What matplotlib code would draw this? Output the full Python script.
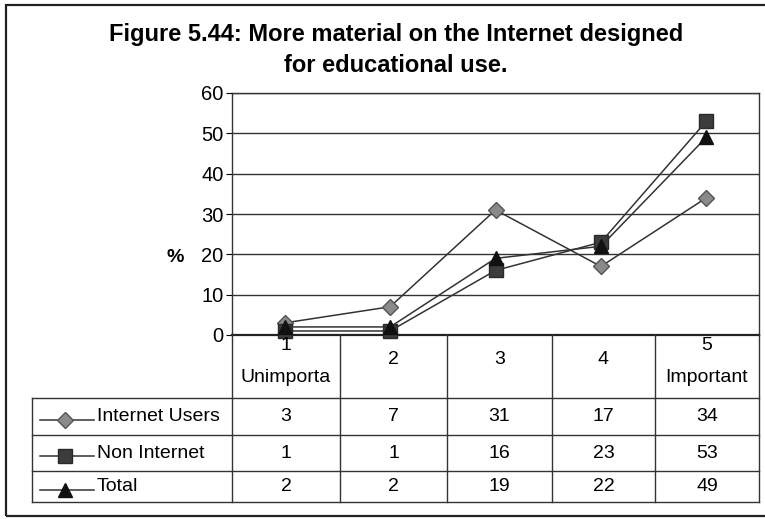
import matplotlib
matplotlib.use("Agg")
import matplotlib.pyplot as plt
from matplotlib.lines import Line2D
from matplotlib.patches import Rectangle

# data
categories = ["1\nUnimporta", "2", "3", "4", "5\nImportant"]
internet_users = [3, 7, 31, 17, 34]
non_internet = [1, 1, 16, 23, 53]
total = [2, 2, 19, 22, 49]
series_names = ["Internet Users", "Non Internet", "Total"]
y_ticks = [0, 10, 20, 30, 40, 50, 60]

W, H = 765, 519
plt.rcParams['font.family'] = ['Liberation Sans', 'DejaVu Sans']
FS = 14

fig = plt.figure(figsize=(W / 100, H / 100), dpi=100)
fig.patch.set_facecolor("white")

def fx(x):
    return x / W

def fy(y):
    return 1 - y / H

# outer frame (runs off the right edge)
fig.add_artist(Rectangle((fx(6), fy(516)), fx(800) - fx(6), fy(5) - fy(516),
                         transform=fig.transFigure, fill=False, edgecolor="#222222", lw=1.6))

# plot area
x_left, x_right, y_top, y_bottom = 232, 759, 93, 335
ax = fig.add_axes([fx(x_left), fy(y_bottom), fx(x_right) - fx(x_left), fy(y_top) - fy(y_bottom)])
ax.set_xlim(0, len(categories))
ax.set_ylim(0, 60)
ax.set_yticks(y_ticks)
ax.set_yticklabels([str(v) for v in y_ticks], fontsize=FS + 0.5)
ax.tick_params(axis="y", length=4, width=0.8, pad=2)
ax.set_xticks([])
for v in y_ticks[1:]:
    ax.axhline(v, color="#333333", lw=1.0, zorder=1)
for s in ["top", "right", "left"]:
    ax.spines[s].set_color("#333333")
    ax.spines[s].set_linewidth(1.0)
ax.spines["bottom"].set_color("#222222")
ax.spines["bottom"].set_linewidth(1.6)

xs = [i + 0.5 for i in range(len(categories))]
styles = [
    dict(marker="D", markersize=8, markerfacecolor="#8a8a8a", markeredgecolor="#555555"),
    dict(marker="s", markersize=9.5, markerfacecolor="#3c3c3c", markeredgecolor="#2a2a2a"),
    dict(marker="^", markersize=9.5, markerfacecolor="#111111", markeredgecolor="#111111"),
]
all_series = [internet_users, non_internet, total]
for vals, st in zip(all_series, styles):
    ax.plot(xs, vals, color="#333333", lw=1.1, zorder=3, clip_on=False, **st)

fig.text(fx(175), fy(257), "%", fontsize=FS, fontweight="bold", ha="center", va="center")

# title
fig.text(fx(396), fy(34), "Figure 5.44: More material on the Internet designed",
         fontsize=17, fontweight="bold", ha="center", va="center")
fig.text(fx(396), fy(66), "for educational use.",
         fontsize=17, fontweight="bold", ha="center", va="center")

# data table
col_edges = [232, 340, 447, 552, 655, 759]
row_edges = [398, 435, 471, 502]
tbl_left = 32
lc = "#333333"

def hline(x0, x1, y, lw=1.0):
    fig.add_artist(Line2D([fx(x0), fx(x1)], [fy(y), fy(y)], transform=fig.transFigure, color=lc, lw=lw))

def vline(x, y0, y1, lw=1.0):
    fig.add_artist(Line2D([fx(x), fx(x)], [fy(y0), fy(y1)], transform=fig.transFigure, color=lc, lw=lw))

for x in col_edges:
    vline(x, y_bottom, row_edges[-1])
vline(tbl_left, row_edges[0], row_edges[-1])
for y in row_edges:
    hline(tbl_left, x_right, y)

for i, lab in enumerate(categories):
    cx = (col_edges[i] + col_edges[i + 1]) / 2
    parts = lab.split("\n")
    if len(parts) == 2:
        fig.text(fx(cx), fy(346), parts[0], fontsize=FS, ha="center", va="center")
        fig.text(fx(cx), fy(378), parts[1], fontsize=FS, ha="center", va="center")
    else:
        fig.text(fx(cx), fy(360), lab, fontsize=FS, ha="center", va="center")

for r, (name, vals, st) in enumerate(zip(series_names, all_series, styles)):
    cy = (row_edges[r] + row_edges[r + 1]) / 2
    fig.add_artist(Line2D([fx(40), fx(94)], [fy(cy + 3), fy(cy + 3)], transform=fig.transFigure,
                          color="#333333", lw=1.1))
    fig.add_artist(Line2D([fx(65)], [fy(cy + 3)], transform=fig.transFigure, lw=0, **st))
    fig.text(fx(97), fy(cy), name, fontsize=FS, ha="left", va="center")
    for i, v in enumerate(vals):
        cx = (col_edges[i] + col_edges[i + 1]) / 2
        fig.text(fx(cx), fy(cy), str(v), fontsize=FS, ha="center", va="center")

fig.savefig("out.png", dpi=100)
